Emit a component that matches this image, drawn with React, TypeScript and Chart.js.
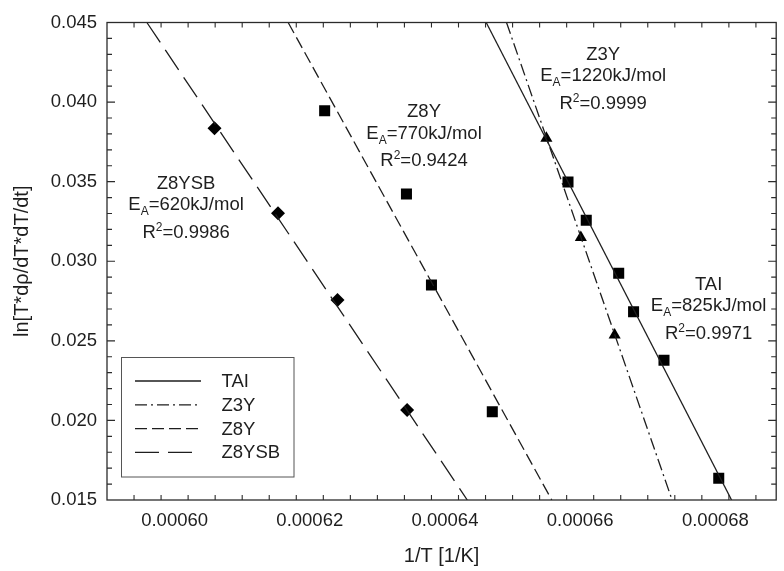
import { useEffect, useRef } from 'react';
import { Chart, registerables } from 'chart.js';

Chart.register(...registerables);

// ---------- data ----------
const seriesNames = ['TAI', 'Z3Y', 'Z8Y', 'Z8YSB'];
const activationEnergy = ['825', '1220', '770', '620']; // kJ/mol
const rSquared = ['0.9971', '0.9999', '0.9424', '0.9986'];

const taiX = [0.0006582, 0.0006609, 0.0006657, 0.0006679, 0.0006724, 0.0006805];
const taiY = [0.03498, 0.03257, 0.02924, 0.02683, 0.02378, 0.01636];
const z3yX = [0.000655, 0.0006601, 0.0006651];
const z3yY = [0.03772, 0.03149, 0.02537];
const z8yX = [0.0006222, 0.0006343, 0.000638, 0.000647];
const z8yY = [0.03946, 0.03423, 0.02851, 0.02055];
const z8ysbX = [0.0006059, 0.0006153, 0.0006241, 0.0006344];
const z8ysbY = [0.03835, 0.03301, 0.02757, 0.02065];

// fitted lines (end points)
const taiFitX = [0.0006461, 0.0006824];
const z3yFitX = [0.0006491, 0.0006736];
const z8yFitX = [0.0006168, 0.0006558];
const z8ysbFitX = [0.0005959, 0.0006433];
const fitY = [0.045, 0.015];

// annotation anchors (data coords of each label's first line)
const labelX = [0.000679, 0.0006634, 0.0006369, 0.0006017];
const labelY = [0.02862, 0.04307, 0.03946, 0.03498];

const xMin = 0.00059;
const xMax = 0.000689;
const yMin = 0.015;
const yMax = 0.045;
const xTickValues = [0.0006, 0.00062, 0.00064, 0.00066, 0.00068];
const xTickLabels = ['0.00060', '0.00062', '0.00064', '0.00066', '0.00068'];
const yTickValues = [0.015, 0.02, 0.025, 0.03, 0.035, 0.04, 0.045];
const yTickLabels = ['0.015', '0.020', '0.025', '0.030', '0.035', '0.040', '0.045'];
const xMinorStep = 0.000004;
const yMinorStep = 0.001;

const xTitle = '1/T [1/K]';
const yTitle = 'ln[T*dρ/dT*dT/dt]';

// ---------- styles ----------
const FONT = '"Liberation Sans", Arial, Helvetica, sans-serif';
const FS = 18.5;
const TFS = 20;
const INK = '#1e1e1e';
const dashes = [[], [12, 4, 2, 4], [12, 5], [24, 9]];
const markers = ['rect', 'triangle', 'rect', 'rectRot'];
const markerRadius = [7.8, 7, 7.8, 7];

const zip = (xs: number[], ys: number[]) => xs.map((v, i) => ({ x: v, y: ys[i] }));

const pointSets = [zip(taiX, taiY), zip(z3yX, z3yY), zip(z8yX, z8yY), zip(z8ysbX, z8ysbY)];
const fitSets = [zip(taiFitX, fitY), zip(z3yFitX, fitY), zip(z8yFitX, fitY), zip(z8ysbFitX, fitY)];

const framePlugin = {
  id: 'frameTicks',
  afterDatasetsDraw(chart: any) {
    const { ctx, chartArea: a, scales } = chart;
    const x = scales.x;
    const y = scales.y;
    ctx.save();
    ctx.strokeStyle = '#2b2b2b';
    ctx.lineWidth = 1.3;
    ctx.strokeRect(a.left, a.top, a.right - a.left, a.bottom - a.top);
    ctx.lineWidth = 1.1;
    ctx.beginPath();
    const nx = Math.round((xMax - xMin) / xMinorStep);
    for (let i = 1; i <= nx; i++) {
      const v = xMin + i * xMinorStep;
      if (v > xMax) break;
      const major = xTickValues.some((t) => Math.abs(t - v) < xMinorStep / 10);
      const len = major ? 8 : 5;
      const px = x.getPixelForValue(v);
      ctx.moveTo(px, a.bottom);
      ctx.lineTo(px, a.bottom - len);
      ctx.moveTo(px, a.top);
      ctx.lineTo(px, a.top + len);
    }
    const ny = Math.round((yMax - yMin) / yMinorStep);
    for (let i = 1; i < ny; i++) {
      const v = yMin + i * yMinorStep;
      const major = yTickValues.some((t) => Math.abs(t - v) < yMinorStep / 10);
      const len = major ? 8 : 5;
      const py = y.getPixelForValue(v);
      ctx.moveTo(a.left, py);
      ctx.lineTo(a.left + len, py);
      ctx.moveTo(a.right, py);
      ctx.lineTo(a.right - len, py);
    }
    ctx.stroke();
    ctx.restore();
  },
};

function drawRich(ctx: CanvasRenderingContext2D, parts: { t: string; s: number; dy: number }[], cx: number, baseline: number) {
  let total = 0;
  for (const p of parts) {
    ctx.font = `${p.s}px ${FONT}`;
    total += ctx.measureText(p.t).width;
  }
  let xx = cx - total / 2;
  for (const p of parts) {
    ctx.font = `${p.s}px ${FONT}`;
    ctx.fillText(p.t, xx, baseline + p.dy);
    xx += ctx.measureText(p.t).width;
  }
}

const annotationPlugin = {
  id: 'annotations',
  afterDraw(chart: any) {
    const { ctx, scales } = chart;
    const x = scales.x;
    const y = scales.y;
    ctx.save();
    ctx.fillStyle = INK;
    ctx.textBaseline = 'alphabetic';
    ctx.textAlign = 'left';
    seriesNames.forEach((name, i) => {
      const cx = x.getPixelForValue(labelX[i]);
      const cy = y.getPixelForValue(labelY[i]);
      const b = 6.7;
      drawRich(ctx, [{ t: name, s: FS, dy: 0 }], cx, cy + b);
      drawRich(
        ctx,
        [
          { t: 'E', s: FS, dy: 0 },
          { t: 'A', s: 12, dy: 5 },
          { t: '=' + activationEnergy[i] + 'kJ/mol', s: FS, dy: 0 },
        ],
        cx,
        cy + 21.5 + b,
      );
      drawRich(
        ctx,
        [
          { t: 'R', s: FS, dy: 0 },
          { t: '2', s: 12, dy: -7 },
          { t: '=' + rSquared[i], s: FS, dy: 0 },
        ],
        cx,
        cy + 49 + b,
      );
    });
    ctx.restore();
  },
};

const legendPlugin = {
  id: 'boxLegend',
  afterDraw(chart: any) {
    const { ctx } = chart;
    const box = { l: 121.5, t: 357.5, r: 294, b: 477 };
    ctx.save();
    ctx.strokeStyle = '#555';
    ctx.lineWidth = 1;
    ctx.setLineDash([]);
    ctx.fillStyle = '#fff';
    ctx.fillRect(box.l, box.t, box.r - box.l, box.b - box.t);
    ctx.strokeRect(box.l, box.t, box.r - box.l, box.b - box.t);
    const rows = [381, 404.8, 428.6, 452.4];
    const fits = chart.data.datasets.slice(0, 4);
    fits.forEach((ds: any, i: number) => {
      const yy = rows[i];
      ctx.strokeStyle = ds.borderColor;
      ctx.lineWidth = ds.borderWidth;
      ctx.setLineDash(ds.borderDash || []);
      ctx.beginPath();
      ctx.moveTo(135, yy);
      ctx.lineTo(201, yy);
      ctx.stroke();
      ctx.setLineDash([]);
      ctx.fillStyle = INK;
      ctx.font = `${FS}px ${FONT}`;
      ctx.textBaseline = 'middle';
      ctx.textAlign = 'left';
      ctx.fillText(ds.label, 221.5, yy + 1);
    });
    ctx.restore();
  },
};

export default function App() {
  const ref = useRef<HTMLCanvasElement | null>(null);
  useEffect(() => {
    document.body.style.margin = '0';
    const canvas = ref.current;
    if (!canvas) return;
    const datasets: any[] = [];
    seriesNames.forEach((name, i) => {
      datasets.push({
        type: 'line',
        label: name,
        data: fitSets[i],
        borderColor: INK,
        borderWidth: 1.3,
        borderDash: dashes[i],
        pointRadius: 0,
        fill: false,
        tension: 0,
      });
    });
    seriesNames.forEach((name, i) => {
      datasets.push({
        type: 'scatter',
        label: name + ' data',
        data: pointSets[i],
        showLine: false,
        pointStyle: markers[i],
        pointRadius: markerRadius[i],
        pointBackgroundColor: '#000',
        pointBorderColor: '#000',
        pointBorderWidth: 0,
      });
    });
    const chart = new Chart(canvas, {
      type: 'scatter',
      data: { datasets },
      plugins: [framePlugin, annotationPlugin, legendPlugin],
      options: {
        responsive: false,
        animation: false,
        devicePixelRatio: 1,
        layout: { padding: { top: 22.5, right: 1, left: 0, bottom: 0 } },
        plugins: { legend: { display: false }, tooltip: { enabled: false } },
        scales: {
          x: {
            type: 'linear',
            min: xMin,
            max: xMax,
            grid: { display: false, drawTicks: false },
            border: { display: false },
            afterBuildTicks: (s: any) => {
              s.ticks = xTickValues.map((v) => ({ value: v }));
            },
            afterFit: (s: any) => {
              s.height = 71;
            },
            ticks: {
              autoSkip: false,
              maxRotation: 0,
              padding: 10,
              color: INK,
              font: { family: FONT, size: FS },
              callback: (_v: any, i: number) => xTickLabels[i],
            },
            title: {
              display: true,
              text: xTitle,
              color: INK,
              font: { family: FONT, size: TFS },
              padding: { top: 0, bottom: 3 },
            },
          },
          y: {
            type: 'linear',
            min: yMin,
            max: yMax,
            grid: { display: false, drawTicks: false },
            border: { display: false },
            afterBuildTicks: (s: any) => {
              s.ticks = yTickValues.map((v) => ({ value: v }));
            },
            afterFit: (s: any) => {
              s.width = 107;
            },
            ticks: {
              autoSkip: false,
              padding: 10,
              color: INK,
              font: { family: FONT, size: FS },
              callback: (_v: any, i: number) => yTickLabels[i],
            },
            title: {
              display: true,
              text: yTitle,
              color: INK,
              font: { family: FONT, size: TFS },
              padding: { top: 10, bottom: 0 },
            },
          },
        },
      } as any,
    });
    return () => chart.destroy();
  }, []);
  return (
    <div style={{ width: 784, height: 571 }}>
      <canvas ref={ref} width={784} height={571} style={{ display: 'block' }} />
    </div>
  );
}
